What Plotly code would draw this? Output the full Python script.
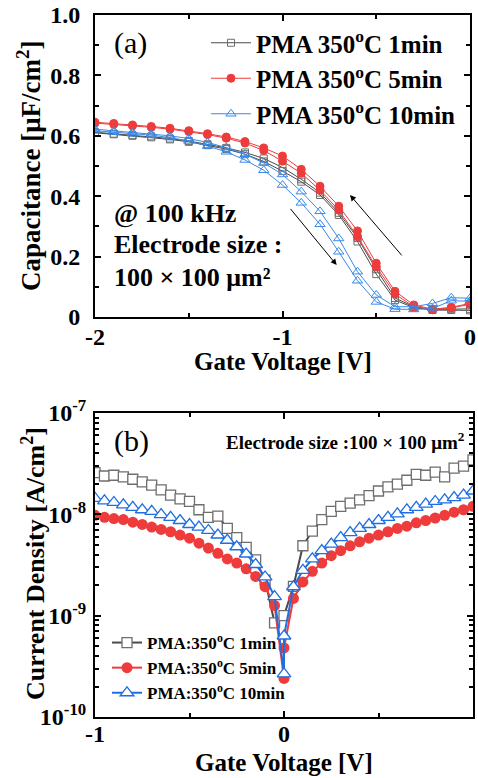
import plotly.graph_objects as go

# ---------------- data: panel (a) C-V ----------------
v_cv = [-2.0, -1.9, -1.8, -1.7, -1.6, -1.5, -1.4, -1.3, -1.2, -1.1, -1.0,
        -0.9, -0.8, -0.7, -0.6, -0.5, -0.4, -0.3, -0.2, -0.1, 0.0]

c_1min_a = [0.612, 0.607, 0.602, 0.598, 0.591, 0.583, 0.572, 0.560, 0.545, 0.525, 0.495,
            0.456, 0.412, 0.345, 0.262, 0.158, 0.063, 0.034, 0.025, 0.027, 0.027]
c_1min_b = [0.610, 0.605, 0.600, 0.595, 0.588, 0.580, 0.569, 0.556, 0.539, 0.515, 0.483,
            0.448, 0.404, 0.338, 0.250, 0.142, 0.056, 0.031, 0.023, 0.023, 0.022]
c_5min_a = [0.645, 0.641, 0.636, 0.631, 0.625, 0.617, 0.607, 0.596, 0.581, 0.560, 0.533,
            0.489, 0.433, 0.367, 0.285, 0.178, 0.085, 0.040, 0.026, 0.032, 0.045]
c_5min_b = [0.642, 0.638, 0.633, 0.628, 0.622, 0.614, 0.604, 0.592, 0.576, 0.551, 0.516,
            0.476, 0.420, 0.354, 0.266, 0.166, 0.076, 0.034, 0.024, 0.030, 0.042]
c_10min_a = [0.622, 0.617, 0.612, 0.606, 0.600, 0.591, 0.578, 0.561, 0.539, 0.510, 0.472,
             0.415, 0.350, 0.260, 0.150, 0.073, 0.034, 0.034, 0.045, 0.064, 0.062]
c_10min_b = [0.617, 0.612, 0.607, 0.602, 0.594, 0.583, 0.566, 0.547, 0.520, 0.486, 0.437,
             0.378, 0.307, 0.216, 0.120, 0.050, 0.026, 0.025, 0.028, 0.054, 0.052]

# sweep-direction arrows (tail -> head), data coords
arrow_up = [(-0.357, 0.199), (-0.640, 0.404)]
arrow_down = [(-0.964, 0.363), (-0.711, 0.172)]

# ---------------- data: panel (b) J-V ----------------
v_jv_1 = [-1.0, -0.95, -0.9, -0.85, -0.8, -0.75, -0.7, -0.65, -0.6, -0.55, -0.5,
          -0.45, -0.4, -0.35, -0.3, -0.25, -0.2, -0.15, -0.1, -0.05, 0.0,
          0.05, 0.1, 0.15, 0.2, 0.25, 0.3, 0.35, 0.4, 0.45, 0.5,
          0.55, 0.6, 0.65, 0.7, 0.75, 0.8, 0.85, 0.9, 0.95, 1.0]
j_1min = [2.58e-8, 2.39e-8, 2.43e-8, 2.34e-8, 2.22e-8, 2.09e-8, 1.94e-8, 1.74e-8, 1.55e-8, 1.42e-8, 1.34e-8,
          1.11e-8, 9.35e-9, 9.6e-9, 7.26e-9, 5.89e-9, 4.71e-9, 3.55e-9, 2.24e-9, 8.5e-10, 1.0e-9,
          1.95e-9, 4.9e-9, 6.84e-9, 8.87e-9, 1.07e-8, 1.2e-8, 1.29e-8, 1.39e-8, 1.53e-8, 1.70e-8,
          1.87e-8, 1.99e-8, 2.17e-8, 2.48e-8, 2.43e-8, 2.61e-8, 2.34e-8, 2.86e-8, 2.99e-8, 3.45e-8]

v_jv_2 = [-1.0, -0.95, -0.9, -0.85, -0.8, -0.75, -0.7, -0.65, -0.6, -0.55, -0.5,
          -0.45, -0.4, -0.35, -0.3, -0.25, -0.2, -0.15, -0.1, -0.05, 0.0, 0.0,
          0.05, 0.1, 0.15, 0.2, 0.25, 0.3, 0.35, 0.4, 0.45, 0.5,
          0.55, 0.6, 0.65, 0.7, 0.75, 0.8, 0.85, 0.9, 0.95, 1.0]
j_5min = [9.77e-9, 9.35e-9, 9.08e-9, 8.87e-9, 8.36e-9, 7.94e-9, 7.48e-9, 7.10e-9, 6.73e-9, 6.25e-9, 5.81e-9,
          5.19e-9, 4.65e-9, 4.12e-9, 3.63e-9, 3.30e-9, 2.90e-9, 2.44e-9, 1.93e-9, 1.26e-9, 2.4e-10, 4.8e-10,
          1.48e-9, 2.15e-9, 2.74e-9, 3.30e-9, 3.91e-9, 4.38e-9, 4.89e-9, 5.35e-9, 5.81e-9, 6.25e-9,
          6.73e-9, 7.26e-9, 7.64e-9, 8.24e-9, 8.69e-9, 9.2e-9, 9.77e-9, 1.05e-8, 1.11e-8, 1.2e-8]
j_10min = [1.44e-8, 1.36e-8, 1.31e-8, 1.24e-8, 1.17e-8, 1.11e-8, 1.07e-8, 9.93e-9, 9.35e-9, 8.69e-9, 7.94e-9,
           7.48e-9, 6.93e-9, 6.25e-9, 5.55e-9, 4.79e-9, 4.06e-9, 3.2e-9, 2.41e-9, 1.54e-9, 2.67e-10, 6.3e-10,
           1.93e-9, 2.8e-9, 3.63e-9, 4.38e-9, 5.08e-9, 5.89e-9, 6.59e-9, 7.26e-9, 7.94e-9, 8.69e-9,
           9.35e-9, 1.01e-8, 1.11e-8, 1.17e-8, 1.26e-8, 1.34e-8, 1.39e-8, 1.46e-8, 1.55e-8, 1.70e-8]

cv_ytickvals = [0, 0.2, 0.4, 0.6, 0.8, 1.0]
cv_yticktext = ["0", "0.2", "0.4", "0.6", "0.8", "1.0"]
jv_ytickvals = [1e-10, 1e-9, 1e-8, 1e-7]
jv_yticktext = ["10<sup>-10</sup>", "10<sup>-9</sup>", "10<sup>-8</sup>", "10<sup>-7</sup>"]
jv_minor = [k * 10.0 ** e for e in (-10, -9, -8) for k in range(2, 10)]

GRAY, GRAY_M = "#4a4a4a", "#6e6e6e"
RED = "#ee3b3b"
BLUE_A, BLUE_B = "#3a8ae8", "#1f6fe0"
FONT = "Liberation Serif"

W, H = 478, 778
def px(xp): return xp / W
def py(yp): return 1 - yp / H

fig = go.Figure()

# ---- panel (a)
def cv_trace(y, color, mcolor, symbol, size, name, show):
    return go.Scatter(x=v_cv, y=y, mode="lines+markers", name=name, showlegend=show,
                      legend="legend", xaxis="x", yaxis="y",
                      line=dict(color=color, width=1),
                      marker=dict(symbol=symbol, size=size, color=mcolor,
                                  line=dict(color=mcolor, width=1)))

fig.add_trace(cv_trace(c_1min_a, GRAY, GRAY_M, "square-open", 7, "PMA 350<sup>o</sup>C 1min", True))
fig.add_trace(cv_trace(c_1min_b, GRAY, GRAY_M, "square-open", 7, "1min b", False))
fig.add_trace(cv_trace(c_5min_a, RED, RED, "circle", 8, "PMA 350<sup>o</sup>C 5min", True))
fig.add_trace(cv_trace(c_5min_b, RED, RED, "circle", 8, "5min b", False))
fig.add_trace(cv_trace(c_10min_a, BLUE_A, BLUE_A, "triangle-up-open", 9, "PMA 350<sup>o</sup>C 10min", True))
fig.add_trace(cv_trace(c_10min_b, BLUE_A, BLUE_A, "triangle-up-open", 9, "10min b", False))

# ---- panel (b)
fig.add_trace(go.Scatter(x=v_jv_1, y=j_1min, mode="lines+markers", name="PMA:350<sup>o</sup>C 1min",
                         legend="legend2", xaxis="x2", yaxis="y2",
                         line=dict(color=GRAY, width=2),
                         marker=dict(symbol="square", size=10, color="white", line=dict(color=GRAY_M, width=1.3))))
fig.add_trace(go.Scatter(x=v_jv_2, y=j_5min, mode="lines+markers", name="PMA:350<sup>o</sup>C 5min",
                         legend="legend2", xaxis="x2", yaxis="y2",
                         line=dict(color=RED, width=2),
                         marker=dict(symbol="circle", size=11, color=RED, line=dict(color=RED, width=0))))
fig.add_trace(go.Scatter(x=v_jv_2, y=j_10min, mode="lines+markers", name="PMA:350<sup>o</sup>C 10min",
                         legend="legend2", xaxis="x2", yaxis="y2",
                         line=dict(color=BLUE_B, width=2),
                         marker=dict(symbol="triangle-up", size=12, color="white", line=dict(color=BLUE_B, width=1.3))))

axis_common = dict(showline=True, linecolor="black", linewidth=2, mirror="allticks",
                   ticks="inside", ticklen=6, tickwidth=1.5, tickcolor="black",
                   showgrid=False, zeroline=False, automargin=False,
                   tickfont=dict(family=FONT, size=24, color="black", weight="bold"))

fig.update_layout(
    width=W, height=H, margin=dict(l=0, r=0, t=0, b=0, autoexpand=False),
    paper_bgcolor="white", plot_bgcolor="white",
    font=dict(family=FONT, color="black"),
    xaxis=dict(domain=[px(95), px(470)], range=[-2, 0], tickvals=[-2, -1, 0], ticktext=["-2", "-1", "0"],
               minor=dict(tickvals=[-1.5, -0.5], ticks="inside", ticklen=4, tickcolor="black"),
               anchor="y", ticklabelstandoff=-3, **axis_common),
    yaxis=dict(domain=[py(317), py(15)], range=[0, 1], tickvals=cv_ytickvals, ticktext=cv_yticktext,
               minor=dict(tickvals=[0.1, 0.3, 0.5, 0.7, 0.9], ticks="inside", ticklen=4, tickcolor="black"),
               anchor="x", ticklabelstandoff=8, **axis_common),
    xaxis2=dict(domain=[px(95), px(473)], range=[-1, 1], tickvals=[-1, 0, 1], ticktext=["-1", "0", "1"],
                minor=dict(tickvals=[-0.5, 0.5], ticks="inside", ticklen=4, tickcolor="black"),
                anchor="y2", ticklabelstandoff=-6, **axis_common),
    yaxis2=dict(domain=[py(717), py(413)], type="log", range=[-10, -7],
                tickvals=jv_ytickvals, ticktext=jv_yticktext,
                minor=dict(tickvals=jv_minor, ticks="inside", ticklen=4, tickcolor="black"),
                anchor="x2", ticklabelstandoff=2, **axis_common),
    legend=dict(x=px(206), y=py(20), xanchor="left", yanchor="top", bgcolor="rgba(0,0,0,0)",
                font=dict(family=FONT, size=25, color="black", weight="bold"),
                tracegroupgap=0, itemwidth=40),
    legend2=dict(x=px(107), y=py(625), xanchor="left", yanchor="top", bgcolor="rgba(0,0,0,0)",
                 font=dict(family=FONT, size=17, color="black", weight="bold"),
                 tracegroupgap=0, itemwidth=30),
)

def note(x, y, text, size, bold=True, angle=0, xanchor="center"):
    return dict(x=px(x), y=py(y), xref="paper", yref="paper", xanchor=xanchor, yanchor="middle",
                text=f"<b>{text}</b>" if bold else text, showarrow=False, textangle=angle,
                font=dict(family=FONT, size=size, color="black"))

ann = [
    note(283, 361, "Gate Voltage [V]", 25),
    note(284, 762, "Gate Voltage [V]", 25),
    note(29, 166, "Capacitance [μF/cm<sup>2</sup>]", 27, angle=-90),
    note(33, 564, "Current Density [A/cm<sup>2</sup>]", 26, angle=-90),
    note(130, 43, "(a)", 30, bold=False),
    note(131, 441, "(b)", 30, bold=False),
    note(112, 213, "@ 100 kHz", 26, xanchor="left"),
    note(112, 245, "Electrode size :", 26, xanchor="left"),
    note(112, 277, "100 × 100 μm²", 26, xanchor="left"),
    note(467, 441, "Electrode size :100 × 100 μm<sup>2</sup>", 19, xanchor="right"),
]
# arrows
for (tx, ty), (hx, hy) in (arrow_up, arrow_down):
    ann.append(dict(x=hx, y=hy, ax=tx, ay=ty, xref="x", yref="y", axref="x", ayref="y",
                    text="", showarrow=True, arrowhead=2, arrowsize=1.2, arrowwidth=1, arrowcolor="black"))
fig.update_layout(annotations=ann)

fig.write_html("out.html")
